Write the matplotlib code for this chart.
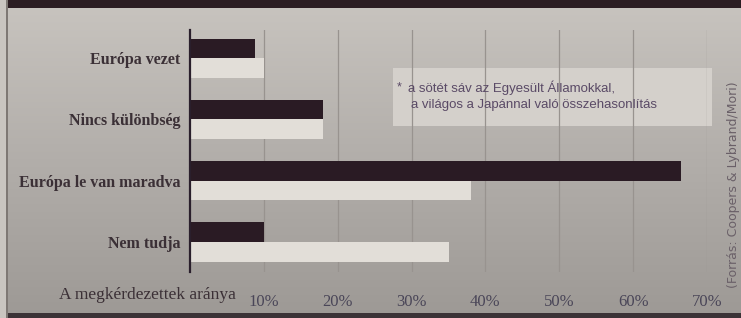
import numpy as np
import matplotlib
matplotlib.use("Agg")
from matplotlib import pyplot as plt
from matplotlib.patches import Rectangle
from matplotlib.colors import LinearSegmentedColormap

# data (percent of respondents)
categories = ["Európa vezet", "Nincs különbség", "Európa le van maradva", "Nem tudja"]
usa = [8.8, 18, 66.5, 10]      # dark bars: compared with the United States
japan = [10, 18, 38, 35]       # light bars: compared with Japan
tick_values = [10, 20, 30, 40, 50, 60, 70]
tick_labels = ["10%", "20%", "30%", "40%", "50%", "60%", "70%"]

W, H = 741, 318
fig = plt.figure(figsize=(W / 100, H / 100), dpi=100)
fig.patch.set_facecolor("#b3afab")

# scanned-paper background: soft vertical gradient
bg = fig.add_axes([0, 0, 1, 1], zorder=-10)
grad = np.linspace(0, 1, 256).reshape(-1, 1)
cmap = LinearSegmentedColormap.from_list("paper", ["#9d9995", "#b2aeaa", "#c8c4bf"])
bg.imshow(grad, cmap=cmap, aspect="auto", extent=[0, 1, 0, 1], origin="lower")
bg.set_xlim(0, 1)
bg.set_ylim(0, 1)
bg.axis("off")

# frame bits of the scan
bg.add_patch(Rectangle((0, 1 - 8 / H), 1, 8 / H, color="#2b1d22", lw=0))
bg.add_patch(Rectangle((0, 0), 1, 5 / H, color="#3b3236", lw=0))
bg.add_patch(Rectangle((0, 0), 6 / W, 1, color="#c9c5c0", lw=0))
bg.add_patch(Rectangle((6 / W, 0), 1.5 / W, 1, color="#7e7874", lw=0))

# main axes: 0% at x=190, 70% at x=707, top y=30, bottom y=272
ax = fig.add_axes([190 / W, (H - 272) / H, (707 - 190) / W, (272 - 30) / H])
ax.set_facecolor("none")

y = np.arange(len(categories))
h = 0.32
ax.barh(y - h / 2, usa, height=h, color="#2a1b24", zorder=3)
ax.barh(y + h / 2, japan, height=h, color="#e2ded8", zorder=3)

ax.set_xlim(0, 70)
ax.set_ylim(3.49, -0.46)
ax.set_xticks(tick_values)
ax.set_xticklabels(tick_labels, fontfamily="Liberation Serif", fontsize=12, color="#4a4658")
ax.tick_params(axis="x", length=0, pad=16)
ax.set_yticks(y)
ax.set_yticklabels(categories, fontfamily="Liberation Serif", fontsize=11.5,
                   fontweight="bold", color="#3b3036")
ax.tick_params(axis="y", length=0, pad=7)

ax.grid(axis="x", color="#98938f", lw=0.9, zorder=1)
for s in ["top", "right", "bottom"]:
    ax.spines[s].set_visible(False)
ax.spines["left"].set_color("#2a1f2c")
ax.spines["left"].set_linewidth(1.6)
ax.spines["left"].set_zorder(4)

# axis caption left of the tick labels
fig.text(236 / W, 1 - 295 / H, "A megkérdezettek aránya", ha="right", va="center",
         fontfamily="Liberation Serif", fontsize=12.5, color="#3b3036")

# note box
bg.add_patch(Rectangle((393 / W, 1 - 126 / H), (712 - 393) / W, 58 / H,
                       color="#d4d0cb", lw=0, zorder=2))
fig.text(397 / W, 1 - 87 / H, "*", ha="left", va="center", fontfamily="Liberation Sans",
         fontsize=9, color="#5a4a66")
fig.text(408 / W, 1 - 88 / H, "a sötét sáv az Egyesült Államokkal,", ha="left",
         va="center", fontfamily="Liberation Sans", fontsize=9.5, color="#5a4a66")
fig.text(411 / W, 1 - 105 / H, "a világos a Japánnal való összehasonlítás", ha="left",
         va="center", fontfamily="Liberation Sans", fontsize=9.5, color="#5a4a66")

# source, rotated on the right edge
fig.text(733 / W, 1 - 185 / H, "(Forrás: Coopers & Lybrand/Mori)", rotation=90,
         ha="center", va="center", fontfamily="Liberation Sans Narrow", fontsize=9,
         color="#6a6068")

fig.savefig("out.png", dpi=100, facecolor=fig.get_facecolor())
